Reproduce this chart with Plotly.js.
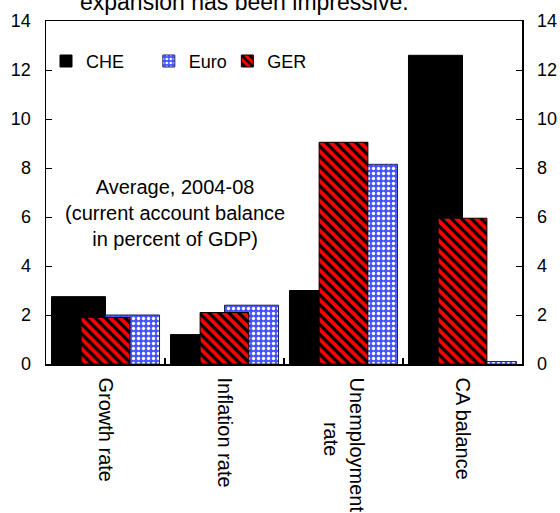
<!DOCTYPE html>
<html>
<head>
<meta charset="utf-8">
<script src="https://cdn.plot.ly/plotly-3.0.1.min.js"></script>
<style>
  html, body { margin: 0; padding: 0; background: #fff; }
  #chart { width: 560px; height: 513px; }
</style>
</head>
<body>
<div id="chart"></div>
<script>
// "rate" is padded so it sits centred under "Unemployment" once rotated
const categories = ["Growth rate", "Inflation rate", "Unemployment<br>&nbsp;&nbsp;&nbsp;&nbsp;&nbsp;&nbsp;&nbsp;&nbsp;rate", "CA balance"];
const cheValues = [2.75, 1.2, 3.0, 12.6];
const euroValues = [2.0, 2.4, 8.15, 0.1];
const gerValues = [1.9, 2.1, 9.05, 5.95];
const yTicks = [0, 2, 4, 6, 8, 10, 12, 14];

const xPos = categories.map((_, i) => i);
const FONT = "Liberation Sans, Arial, sans-serif";

const traces = [
	{
		name: "CHE",
		type: "bar",
		x: xPos,
		y: cheValues,
		width: 0.454,
		offset: -0.454,
		marker: { color: "#000000", line: { color: "#000000", width: 1 } },
		legend: "legend",
	},
	{
		name: "Euro",
		type: "bar",
		x: xPos,
		y: euroValues,
		width: 0.454,
		offset: 0,
		marker: {
			color: "#4455ff",
			line: { color: "#202060", width: 1 },
			pattern: { shape: ".", fgcolor: "#ffffff", bgcolor: "#4455ff", size: 5, solidity: 0.35 },
		},
		legend: "legend2",
	},
	{
		// GER sits on the secondary axis, centred over the pair
		name: "GER",
		type: "bar",
		x: xPos,
		y: gerValues,
		yaxis: "y2",
		width: 0.41,
		offset: -0.205,
		marker: {
			color: "#ff0000",
			line: { color: "#000000", width: 1 },
			pattern: { shape: "\\", fgcolor: "#000000", bgcolor: "#ff0000", size: 7, solidity: 0.45 },
		},
		legend: "legend3",
	},
];

const legendBase = {
	orientation: "h",
	yanchor: "middle",
	y: 0.8825,
	xanchor: "left",
	bgcolor: "rgba(0,0,0,0)",
	font: { family: FONT, size: 18, color: "#000" },
};

const yAxisBase = {
	range: [0, 14],
	tickmode: "array",
	tickvals: yTicks,
	ticks: "inside",
	ticklen: 6,
	tickwidth: 1,
	tickcolor: "#000",
	ticklabelstandoff: 10,
	tickfont: { family: FONT, size: 18 },
	showline: true,
	linecolor: "#000",
	linewidth: 1.5,
	showgrid: false,
	zeroline: false,
	fixedrange: true,
};

const layout = {
	width: 560,
	height: 513,
	margin: { l: 46, r: 38, t: 21, b: 149, pad: 0 },
	paper_bgcolor: "#ffffff",
	plot_bgcolor: "#ffffff",
	font: { family: FONT, size: 18, color: "#000" },
	barmode: "overlay",
	showlegend: true,
	legend: { ...legendBase, x: 0.0 },
	legend2: { ...legendBase, x: 0.216 },
	legend3: { ...legendBase, x: 0.381 },
	xaxis: {
		range: [-0.5, 3.5],
		tickmode: "array",
		tickvals: xPos,
		ticktext: categories,
		ticks: "",
		tickangle: 90,
		tickfont: { family: FONT, size: 20 },
		ticklabelstandoff: 8,
		showline: true,
		linecolor: "#000",
		linewidth: 1.5,
		mirror: true,
		showgrid: false,
		zeroline: false,
		fixedrange: true,
		minor: { tickmode: "array", tickvals: [0.5, 1.5, 2.5], ticks: "inside", ticklen: 6, tickcolor: "#000", tickwidth: 1.5 },
	},
	yaxis: { ...yAxisBase },
	yaxis2: { ...yAxisBase, overlaying: "y", side: "right", anchor: "x" },
	annotations: [
		{
			text: "expansion has been impressive.",
			xref: "paper",
			yref: "paper",
			x: 0.416,
			y: 1,
			xanchor: "center",
			yanchor: "bottom",
			yshift: 4,
			showarrow: false,
			font: { family: FONT, size: 23, color: "#000" },
		},
		{
			text: "Average, 2004-08<br>(current account balance<br>in percent of GDP)",
			xref: "paper",
			yref: "paper",
			x: (175 - 46) / 476,
			y: (363.7 - 213) / 343,
			xanchor: "center",
			yanchor: "middle",
			align: "center",
			showarrow: false,
			font: { family: FONT, size: 20, color: "#000" },
		},
	],
};

Plotly.newPlot("chart", traces, layout, { displayModeBar: false, staticPlot: true });
</script>
</body>
</html>
